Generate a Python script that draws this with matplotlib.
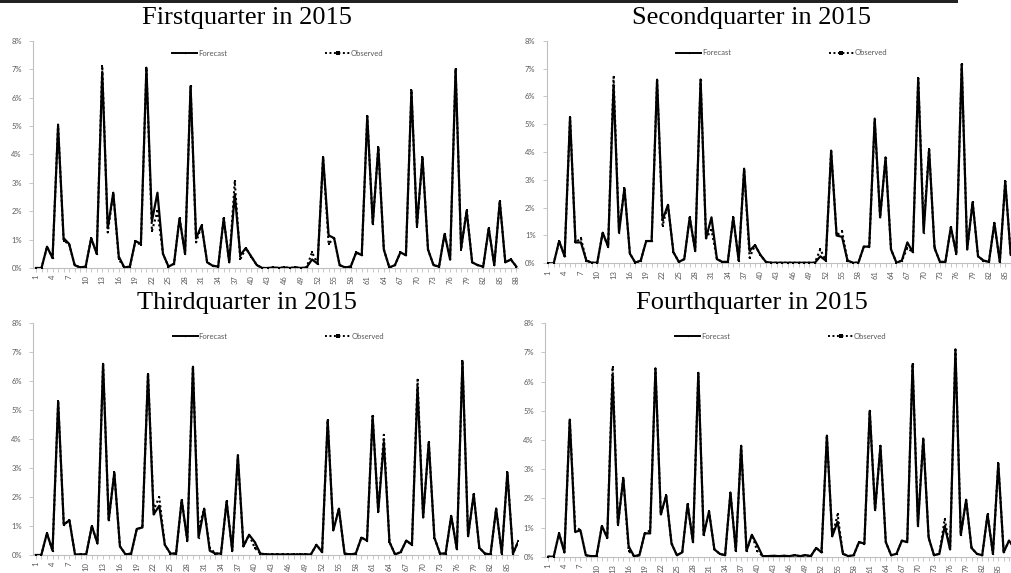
import matplotlib
matplotlib.use("Agg")
import matplotlib.pyplot as plt
from matplotlib.lines import Line2D
from matplotlib.patches import Rectangle
from matplotlib.ticker import FixedLocator, FuncFormatter

days = list(range(1, 89))
y_ticks = [0, 1, 2, 3, 4, 5, 6, 7, 8]

titles = ["Firstquarter in 2015", "Secondquarter in 2015",
          "Thirdquarter in 2015", "Fourthquarter in 2015"]

# values in percent
q1_forecast = [0, 0, 0.75, 0.35, 5.0, 1.05, 0.85, 0.1, 0.02, 0.05,
               1.05, 0.5, 6.9, 1.4, 2.65, 0.4, 0.02, 0.05, 0.95, 0.85,
               7.05, 1.65, 2.65, 0.5, 0.05, 0.15, 1.75, 0.5, 6.4, 1.05,
               1.5, 0.2, 0.08, 0.05, 1.75, 0.2, 2.6, 0.45, 0.7, 0.4,
               0.1, 0, 0, 0.02, 0, 0.02, 0, 0.02, 0, 0.02,
               0.3, 0.15, 3.9, 1.15, 1.05, 0.1, 0.02, 0.05, 0.55, 0.45,
               5.35, 1.55, 4.25, 0.65, 0.02, 0.1, 0.55, 0.45, 6.25, 1.5,
               3.9, 0.65, 0.1, 0.05, 1.2, 0.3, 7.0, 0.7, 2.0, 0.2,
               0.1, 0.05, 1.4, 0.1, 2.35, 0.2, 0.3, 0.05]
q1_observed = [0, 0, 0.75, 0.35, 5.05, 0.95, 0.85, 0.1, 0.02, 0.05,
               1.05, 0.5, 7.1, 1.25, 2.65, 0.3, 0.02, 0.05, 0.95, 0.8,
               7.05, 1.3, 2.0, 0.5, 0.05, 0.15, 1.75, 0.5, 6.4, 0.9,
               1.5, 0.2, 0.08, 0.05, 1.75, 0.2, 3.05, 0.3, 0.7, 0.4,
               0.1, 0, 0, 0.02, 0, 0.02, 0, 0.02, 0, 0.02,
               0.55, 0.15, 3.9, 0.85, 1.05, 0.1, 0.02, 0.05, 0.55, 0.45,
               5.35, 1.55, 4.25, 0.65, 0.02, 0.1, 0.55, 0.45, 6.25, 1.45,
               3.9, 0.65, 0.1, 0.05, 1.2, 0.3, 7.0, 0.65, 2.05, 0.2,
               0.1, 0.05, 1.4, 0.1, 2.35, 0.2, 0.3, 0.05]

q2_forecast = [0, 0, 0.8, 0.25, 5.25, 0.75, 0.75, 0.1, 0.02, 0.02,
               1.1, 0.6, 6.4, 1.1, 2.7, 0.35, 0.02, 0.1, 0.8, 0.8,
               6.6, 1.55, 2.1, 0.4, 0.05, 0.15, 1.65, 0.45, 6.6, 0.9,
               1.65, 0.15, 0.05, 0.05, 1.65, 0.1, 3.4, 0.45, 0.65, 0.3,
               0.05, 0.02, 0.02, 0.02, 0.02, 0.02, 0.02, 0.02, 0.02, 0.02,
               0.25, 0.1, 4.05, 1.0, 0.95, 0.1, 0.02, 0.02, 0.6, 0.6,
               5.2, 1.65, 3.8, 0.5, 0.02, 0.1, 0.75, 0.4, 6.65, 1.1,
               4.1, 0.55, 0.05, 0.05, 1.3, 0.35, 7.15, 0.5, 2.2, 0.25,
               0.1, 0.05, 1.45, 0.05, 2.95, 0.3, 0.25, 0.1]
q2_observed = [0, 0, 0.8, 0.25, 5.25, 0.75, 0.9, 0.1, 0.02, 0.02,
               1.1, 0.6, 6.7, 1.2, 2.7, 0.35, 0.02, 0.1, 0.8, 0.8,
               6.6, 1.35, 2.1, 0.4, 0.05, 0.15, 1.65, 0.45, 6.6, 0.9,
               1.2, 0.15, 0.05, 0.05, 1.65, 0.1, 3.4, 0.2, 0.65, 0.3,
               0.05, 0.02, 0.02, 0.02, 0.02, 0.02, 0.02, 0.02, 0.02, 0.02,
               0.5, 0.1, 4.05, 1.0, 1.15, 0.1, 0.02, 0.02, 0.6, 0.6,
               5.1, 1.65, 3.8, 0.5, 0.02, 0.1, 0.55, 0.4, 6.65, 1.35,
               4.1, 0.55, 0.05, 0.05, 1.3, 0.35, 7.15, 0.5, 2.2, 0.25,
               0.1, 0.05, 1.45, 0.05, 2.95, 0.3, 0.25, 0.1]

q3_forecast = [0, 0, 0.75, 0.15, 5.3, 1.05, 1.2, 0.02, 0.02, 0.02,
               1.0, 0.4, 6.6, 1.2, 2.85, 0.3, 0.02, 0.05, 0.9, 0.95,
               6.25, 1.4, 1.7, 0.35, 0.05, 0.05, 1.9, 0.5, 6.5, 0.6,
               1.6, 0.15, 0.05, 0.05, 1.85, 0.15, 3.45, 0.3, 0.7, 0.45,
               0.05, 0.02, 0.02, 0.02, 0.02, 0.02, 0.02, 0.02, 0.02, 0.02,
               0.35, 0.1, 4.65, 0.85, 1.6, 0.05, 0.02, 0.05, 0.6, 0.5,
               4.8, 1.5, 3.9, 0.45, 0.02, 0.1, 0.5, 0.35, 5.8, 1.3,
               3.9, 0.6, 0.05, 0.05, 1.35, 0.2, 6.7, 0.65, 2.1, 0.25,
               0.05, 0.02, 1.6, 0.05, 2.85, 0.05, 0.5, 0.7]
q3_observed = [0, 0, 0.75, 0.15, 5.3, 1.05, 1.2, 0.02, 0.02, 0.02,
               1.0, 0.4, 6.6, 1.2, 2.85, 0.3, 0.02, 0.05, 0.9, 0.95,
               6.25, 1.55, 2.0, 0.35, 0.05, 0.05, 1.9, 0.5, 6.5, 0.9,
               1.6, 0.25, 0.05, 0.05, 1.85, 0.15, 3.35, 0.3, 0.7, 0.25,
               0.05, 0.02, 0.02, 0.02, 0.02, 0.02, 0.02, 0.02, 0.02, 0.02,
               0.35, 0.1, 4.65, 0.85, 1.6, 0.05, 0.02, 0.05, 0.6, 0.5,
               4.8, 1.5, 4.15, 0.45, 0.02, 0.1, 0.5, 0.35, 6.05, 1.3,
               3.9, 0.6, 0.05, 0.05, 1.35, 0.2, 6.7, 0.65, 2.1, 0.25,
               0.05, 0.02, 1.6, 0.05, 2.85, 0.05, 0.5, 0.7]

q4_forecast = [0, 0, 0.8, 0.15, 4.7, 0.85, 0.9, 0.05, 0.02, 0.02,
               1.05, 0.65, 6.2, 1.1, 2.7, 0.35, 0.02, 0.05, 0.8, 0.8,
               6.45, 1.45, 2.1, 0.45, 0.05, 0.15, 1.8, 0.5, 6.3, 0.75,
               1.55, 0.25, 0.1, 0.05, 2.2, 0.2, 3.8, 0.2, 0.75, 0.4,
               0.02, 0.02, 0.03, 0.02, 0.03, 0.02, 0.05, 0.02, 0.05, 0.02,
               0.3, 0.15, 4.15, 0.7, 1.2, 0.1, 0.02, 0.05, 0.5, 0.45,
               5.0, 1.6, 3.8, 0.5, 0.05, 0.1, 0.55, 0.5, 6.6, 1.05,
               4.05, 0.65, 0.05, 0.1, 1.05, 0.25, 7.1, 0.75, 1.95, 0.3,
               0.1, 0.05, 1.45, 0.1, 3.2, 0.15, 0.55, 0.3]
q4_observed = [0, 0, 0.8, 0.15, 4.7, 1.05, 0.9, 0.05, 0.02, 0.02,
               1.05, 0.65, 6.5, 1.1, 2.7, 0.2, 0.02, 0.05, 0.8, 0.9,
               6.45, 1.45, 2.1, 0.45, 0.05, 0.15, 1.8, 0.5, 6.3, 0.75,
               1.55, 0.25, 0.1, 0.05, 2.2, 0.2, 3.8, 0.2, 0.75, 0.2,
               0.02, 0.02, 0.03, 0.02, 0.03, 0.02, 0.05, 0.02, 0.05, 0.02,
               0.3, 0.15, 4.15, 0.7, 1.45, 0.1, 0.02, 0.05, 0.5, 0.45,
               5.0, 1.6, 3.8, 0.5, 0.05, 0.1, 0.55, 0.5, 6.6, 1.2,
               4.05, 0.65, 0.05, 0.1, 1.3, 0.25, 7.1, 0.75, 1.95, 0.3,
               0.1, 0.05, 1.45, 0.1, 3.2, 0.15, 0.55, 0.3]

forecasts = [q1_forecast, q2_forecast, q3_forecast, q4_forecast]
observeds = [q1_observed, q2_observed, q3_observed, q4_observed]

W, H = 1012, 573
fig = plt.figure(figsize=(W / 100, H / 100), dpi=100)

# pixel boxes (left, top, right, bottom) and x ranges
boxes = [(33, 40.7, 518, 268), (546.7, 40.7, 1012, 263.3),
         (33, 323.3, 518.5, 555), (545, 323.3, 1012, 556.7)]
xlims = [(0.46, 88.3), (0.71, 86.24), (0.52, 86.98), (0.38, 87.56)]
title_pos = [(247, 18), (752, 18), (247, 303), (752, 303)]

label_grey = "#595959"

# black rule across the top
fig.patches.append(Rectangle((0, 1 - 3 / H), 958 / W, 3 / H, transform=fig.transFigure,
                             facecolor="#222222", edgecolor="none"))

for k in range(4):
    l, t, r, b = boxes[k]
    ax = fig.add_axes([l / W, 1 - b / H, (r - l) / W, (b - t) / H])
    ax.plot(days, observeds[k], color="black", linestyle=(0, (1, 1.3)), linewidth=1.5,
            marker="s", markersize=1.8, markeredgewidth=0, zorder=3)
    ax.plot(days, forecasts[k], color="black", linestyle="-", linewidth=1.6,
            marker="o", markersize=1.0, markeredgewidth=0, zorder=4)
    ax.set_xlim(*xlims[k])
    ax.set_ylim(0, 8)
    ax.set_facecolor("white")
    for s in ["top", "right"]:
        ax.spines[s].set_visible(False)
    for s in ["left", "bottom"]:
        ax.spines[s].set_color("#bfbfbf")
        ax.spines[s].set_linewidth(0.8)
    ax.yaxis.set_major_locator(FixedLocator(y_ticks))
    ax.yaxis.set_major_formatter(FuncFormatter(lambda v, p: f"{int(v)}%"))
    ax.xaxis.set_major_locator(FixedLocator(days[::3]))
    ax.xaxis.set_minor_locator(FixedLocator(days))
    ax.set_xticklabels([str(d) for d in days[::3]], rotation=90)
    ax.tick_params(axis="y", labelsize=5.5, labelcolor=label_grey, color="#bfbfbf",
                   length=3, width=0.6, pad=5)
    ax.tick_params(axis="x", which="both", labelsize=5.5, labelcolor=label_grey,
                   color="#bfbfbf", length=3, width=0.6, pad=2)
    for lab in ax.get_xticklabels() + ax.get_yticklabels():
        lab.set_fontfamily("Lato")

    h_f = Line2D([], [], color="black", linewidth=1.4, marker="o", markersize=1.0,
                 markeredgewidth=0)
    h_o = Line2D([], [], color="black", linestyle=(0, (1, 1.3)), linewidth=1.4,
                 marker="s", markersize=2.2, markeredgewidth=0)
    leg = ax.legend([h_f, h_o], ["Forecast", "Observed"], ncol=2, loc="center",
                    bbox_to_anchor=(0.505, 0.945), frameon=False,
                    handlelength=3.3, handletextpad=0.1, columnspacing=12.8,
                    prop={"family": "Lato", "size": 5.5})
    for tx in leg.get_texts():
        tx.set_color(label_grey)

    tx, ty = title_pos[k]
    fig.text(tx / W, 1 - ty / H, titles[k], ha="center", va="center",
             fontsize=19, family="Liberation Serif")

fig.savefig("out.png", dpi=100, facecolor="white")
